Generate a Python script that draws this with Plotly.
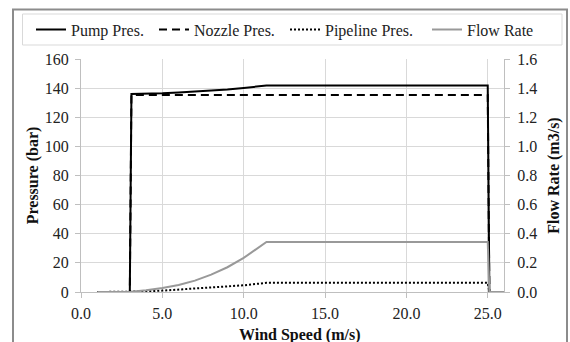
import plotly.graph_objects as go

wind_speed = [1, 2, 3, 3.1, 4, 5, 6, 7, 8, 9, 10, 11, 11.4, 25, 25.1, 26]
pump_pres = [0, 0, 0, 136.0, 136.1, 136.4, 137.0, 137.6, 138.3, 139.1, 140.1, 141.3, 141.8, 141.8, 0, 0]
nozzle_pres = [0, 0, 0, 135.3, 135.3, 135.3, 135.3, 135.3, 135.3, 135.3, 135.3, 135.3, 135.3, 135.3, 0, 0]
pipeline_pres = [0, 0, 0, 0.05, 0.4, 0.95, 1.6, 2.2, 2.8, 3.6, 4.6, 5.8, 6.3, 6.3, 0, 0]
flow_rate = [0, 0, 0, 0.001, 0.012, 0.027, 0.048, 0.078, 0.119, 0.17, 0.234, 0.31, 0.344, 0.344, 0, 0]
x_title = "Wind Speed (m/s)"

FONT = "Times New Roman, Liberation Serif, serif"
GRID = "#d9d9d9"
AXIS = "#bfbfbf"
TXT = "#222222"

fig = go.Figure()
fig.add_trace(go.Scatter(x=wind_speed, y=pump_pres, name="Pump Pres.", mode="lines", legendwidth=78,
                         line=dict(color="black", width=2)))
fig.add_trace(go.Scatter(x=wind_speed, y=nozzle_pres, name="Nozzle Pres.", mode="lines", legendwidth=86,
                         line=dict(color="black", width=2, dash="8px,5px")))
fig.add_trace(go.Scatter(x=wind_speed, y=pipeline_pres, name="Pipeline Pres.", mode="lines", legendwidth=97,
                         line=dict(color="black", width=2, dash="2px,2px")))
fig.add_trace(go.Scatter(x=wind_speed, y=flow_rate, name="Flow Rate", mode="lines", yaxis="y2", legendwidth=66,
                         line=dict(color="#999999", width=2)))

L, R, T, B = 81, 66, 59, 50
W, H = 570, 342
pw, ph = W - L - R, H - T - B

def px_x(p):
    return (p - L) / pw

def px_y(p):
    return (H - B - p) / ph

axis_common = dict(showline=True, linecolor=AXIS, linewidth=1, ticks="outside", ticklen=5,
                   tickcolor=AXIS, zeroline=False, automargin=False,
                   tickfont=dict(family=FONT, size=16, color=TXT))
title_font = dict(size=16, family=FONT, color="#111111")

fig.update_layout(
    width=W, height=H,
    margin=dict(l=L, r=R, t=T, b=B, autoexpand=False),
    paper_bgcolor="white", plot_bgcolor="white",
    font=dict(family=FONT, size=16, color=TXT),
    showlegend=True,
    legend=dict(orientation="h", x=px_x(31), xanchor="left", y=px_y(29.5), yanchor="middle",
                bgcolor="rgba(0,0,0,0)", font=dict(family=FONT, size=16, color=TXT)),
    xaxis=dict(range=[0, 26], dtick=5, tick0=0, tickformat=".1f", ticklabelstandoff=2,
               showgrid=True, gridcolor=GRID, gridwidth=1, **axis_common),
    yaxis=dict(range=[0, 160], dtick=20, tick0=0, ticklabelstandoff=3,
               showgrid=True, gridcolor=GRID, gridwidth=1,
               title=dict(text="<b>Pressure (bar)</b>", standoff=2, font=title_font), **axis_common),
    yaxis2=dict(range=[0, 1.6], dtick=0.2, tick0=0, tickformat=".1f", overlaying="y", side="right",
                ticklabelstandoff=4, showgrid=False,
                title=dict(text="<b>Flow Rate (m3/s)</b>", standoff=11, font=title_font), **axis_common),
    annotations=[
        dict(text="<b>" + x_title + "</b>", xref="paper", yref="paper",
             x=px_x(300), y=px_y(335), xanchor="center", yanchor="middle",
             showarrow=False, font=title_font),
    ],
    shapes=[
        dict(type="rect", xref="paper", yref="paper",
             x0=px_x(13), x1=px_x(567), y0=px_y(360), y1=px_y(9.5),
             line=dict(color="#8c8c8c", width=2), fillcolor="rgba(0,0,0,0)", layer="below"),
        dict(type="rect", xref="paper", yref="paper",
             x0=px_x(22.5), x1=px_x(562), y0=px_y(45), y1=px_y(14),
             line=dict(color="#d9d9d9", width=1), fillcolor="rgba(0,0,0,0)", layer="below"),
    ],
)

fig.write_html("out.html", config={"displayModeBar": False},
               post_script="document.body.style.margin='0';document.body.style.overflow='hidden';")
